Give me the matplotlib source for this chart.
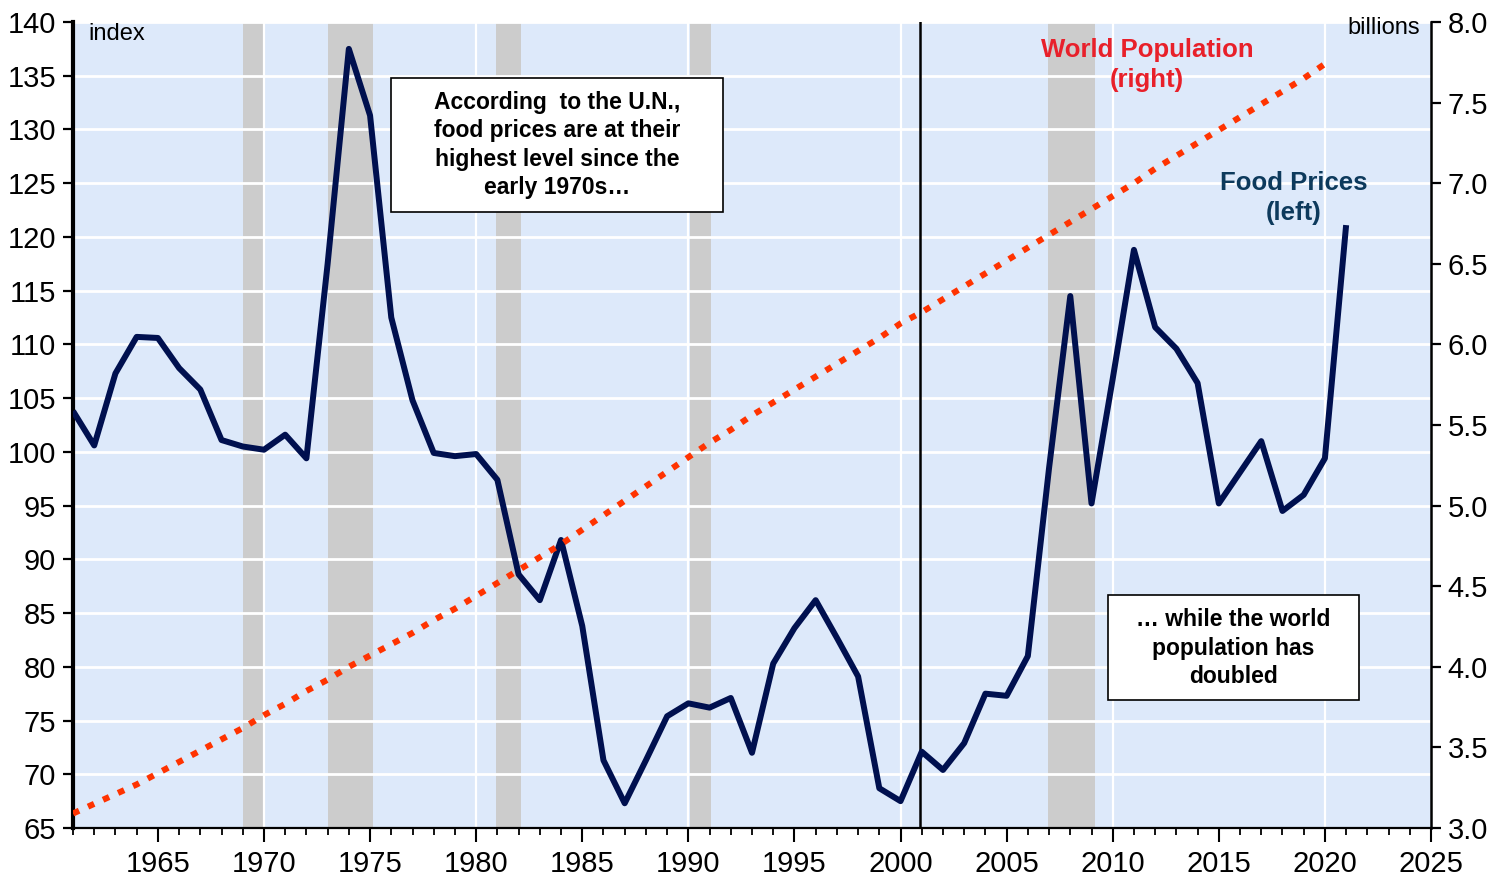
import matplotlib
matplotlib.use("Agg")
import matplotlib.pyplot as plt
from matplotlib.patches import Rectangle
from matplotlib.ticker import MultipleLocator

plt.rcParams['font.family'] = ['Liberation Sans', 'DejaVu Sans']

# ---- data ----
years = list(range(1961, 2022))
food_prices = [103.8, 100.6, 107.3, 110.7, 110.6, 107.8, 105.8, 101.1, 100.5, 100.2,
               101.6, 99.4, 117.5, 137.5, 131.3, 112.5, 104.8, 99.9, 99.6, 99.8,
               97.4, 88.6, 86.2, 91.8, 83.8, 71.3, 67.3, 71.3, 75.4, 76.6,
               76.2, 77.1, 72.0, 80.3, 83.6, 86.2, 82.7, 79.1, 68.7, 67.5,
               72.1, 70.4, 72.9, 77.5, 77.3, 81.0, 98.5, 114.5, 95.2, 106.8,
               118.8, 111.6, 109.6, 106.4, 95.2, 98.1, 101.0, 94.5, 96.0, 99.4,
               121.1]

pop_years = list(range(1961, 2021))
population = [3.09, 3.15, 3.21, 3.27, 3.34, 3.41, 3.48, 3.55, 3.62, 3.70,
              3.77, 3.85, 3.92, 4.00, 4.07, 4.14, 4.21, 4.29, 4.36, 4.44,
              4.52, 4.60, 4.68, 4.76, 4.85, 4.94, 5.03, 5.12, 5.21, 5.30,
              5.39, 5.47, 5.56, 5.64, 5.72, 5.80, 5.88, 5.96, 6.04, 6.13,
              6.20, 6.28, 6.36, 6.44, 6.52, 6.60, 6.68, 6.76, 6.84, 6.92,
              7.00, 7.09, 7.17, 7.25, 7.33, 7.41, 7.49, 7.57, 7.65, 7.74]

recession_start = [1969.0, 1973.0, 1980.95, 1990.1, 2006.95]
recession_end = [1970.0, 1975.15, 1982.1, 1991.05, 2009.15]
recession_line = [2000.9]

x_major = list(range(1965, 2026, 5))
left_ticks = list(range(65, 141, 5))
right_ticks = [3.0, 3.5, 4.0, 4.5, 5.0, 5.5, 6.0, 6.5, 7.0, 7.5, 8.0]

# ---- colours ----
bg = '#dde9fa'
navy = '#00104f'
red = '#ff3300'
band = '#cccccc'

W, H = 1504, 877
fig = plt.figure(figsize=(W / 100, H / 100), dpi=100)
ax = fig.add_axes([73 / W, 1 - 828 / H, (1431 - 73) / W, (828 - 22) / H])
ax.set_facecolor(bg)

for s, e in zip(recession_start, recession_end):
    ax.axvspan(s, e, color=band, lw=0, zorder=0.2)

ax.set_axisbelow(True)
ax.set_xlim(1961, 2025)
ax.set_ylim(65, 140)
ax.set_yticks(left_ticks)
ax.set_xticks(x_major)
ax.xaxis.set_minor_locator(MultipleLocator(1))
ax.yaxis.grid(True, color='white', lw=2.0)
for gx in range(1970, 2025, 10):
    ax.axvline(gx, color='white', lw=1.6, zorder=0.5)

for xl in recession_line:
    ax.axvline(xl, color='black', lw=1.8, zorder=1.5)

ax.plot(years, food_prices, color=navy, lw=4.3, solid_joinstyle='round',
        solid_capstyle='butt', zorder=3)

ax.spines['top'].set_visible(False)
ax.spines['right'].set_visible(False)
ax.spines['left'].set_linewidth(3.0)
ax.spines['bottom'].set_linewidth(1.6)
ax.tick_params(axis='y', which='major', direction='out', length=7, width=1.6,
               labelsize=21, pad=5)
ax.tick_params(axis='x', which='major', direction='out', length=10, width=1.5,
               labelsize=21, pad=6)
ax.tick_params(axis='x', which='minor', direction='out', length=5, width=1.3)

ax2 = ax.twinx()
ax2.set_ylim(3.0, 8.0)
ax2.set_yticks(right_ticks)
ax2.set_yticklabels([f'{v:.1f}' for v in right_ticks])
for sp in ['top', 'left', 'bottom']:
    ax2.spines[sp].set_visible(False)
ax2.spines['right'].set_linewidth(1.8)
ax2.tick_params(axis='y', direction='out', length=7, width=1.6, labelsize=21, pad=5)
ax2.plot(pop_years, population, color=red, lw=4.4, linestyle=(0, (1.1, 1.6)),
         dash_capstyle='butt', zorder=4)

# ---- texts ----
fig.text(88 / W, 1 - 34 / H, 'index', fontsize=17, ha='left', va='center')
fig.text(1420 / W, 1 - 28 / H, 'billions', fontsize=17, ha='right', va='center')

fig.text(1147 / W, 1 - 65 / H, 'World Population\n(right)', color='#e8202a',
         fontsize=18.5, fontweight='bold', ha='center', va='center', linespacing=1.35)
fig.text(1294 / W, 1 - 198 / H, 'Food Prices\n(left)', color='#0d3a5c',
         fontsize=18.5, fontweight='bold', ha='center', va='center', linespacing=1.35)

fig.add_artist(Rectangle((391 / W, 1 - 212 / H), (723 - 391) / W, (212 - 78) / H,
                         transform=fig.transFigure, facecolor='white',
                         edgecolor='black', lw=1.2, zorder=5))
fig.text(557 / W, 1 - 145 / H,
         'According  to the U.N.,\nfood prices are at their\nhighest level since the\nearly 1970s\u2026',
         fontsize=16.5, fontweight='bold', ha='center', va='center', linespacing=1.3,
         zorder=6)

fig.add_artist(Rectangle((1108 / W, 1 - 700 / H), (1359 - 1108) / W, (700 - 595) / H,
                         transform=fig.transFigure, facecolor='white',
                         edgecolor='black', lw=1.2, zorder=5))
fig.text(1233.5 / W, 1 - 648 / H, '\u2026 while the world\npopulation has\ndoubled',
         fontsize=16.5, fontweight='bold', ha='center', va='center', linespacing=1.3,
         zorder=6)

fig.savefig('out.png', dpi=100, facecolor='white')
